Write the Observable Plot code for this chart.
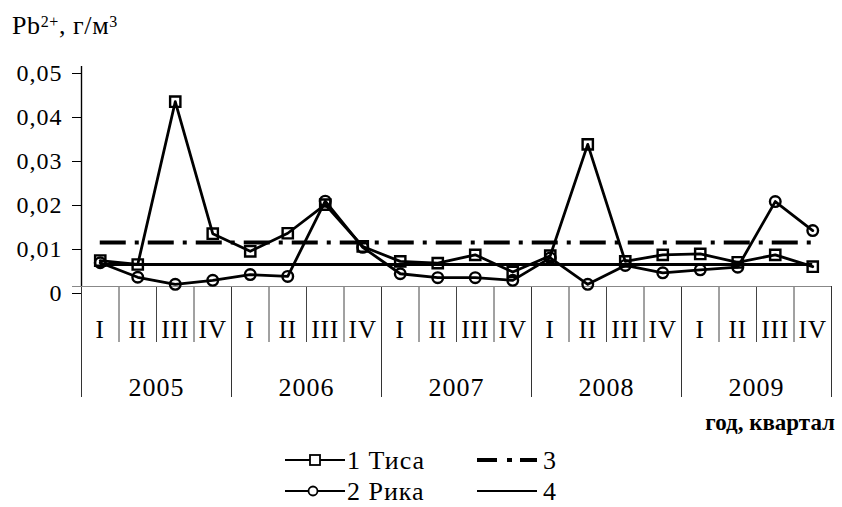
<!DOCTYPE html>
<html>
<head>
<meta charset="utf-8">
<script src="https://cdn.jsdelivr.net/npm/d3@7"></script>
<script src="https://cdn.jsdelivr.net/npm/@observablehq/plot@0.6"></script>
<style>
  html, body { margin: 0; padding: 0; background: white; }
  #wrap { position: relative; width: 842px; height: 507px; font-family: 'Liberation Serif', serif; }
  #wrap > svg { position: absolute; left: 0; top: 0; }
  #wrap svg text { font-family: 'Liberation Serif', serif; }
</style>
</head>
<body>
<div id="wrap"></div>
<script>
// ---- data ----
const years = ["2005", "2006", "2007", "2008", "2009"];
const quarters = ["I", "II", "III", "IV"];
const tisa = [0.0059, 0.0050, 0.0420, 0.0120,
              0.0080, 0.0121, 0.0186, 0.0091,
              0.0057, 0.0053, 0.0072, 0.0033,
              0.0070, 0.0323, 0.0057, 0.0072,
              0.0074, 0.0055, 0.0072, 0.0045];
const rika = [0.0054, 0.0021, 0.0005, 0.0014,
              0.0027, 0.0023, 0.0194, 0.0089,
              0.0029, 0.0020, 0.0020, 0.0014,
              0.0065, 0.0005, 0.0048, 0.0031,
              0.0038, 0.0044, 0.0193, 0.0127];
const level3 = 0.01;   // series 3
const level4 = 0.005;  // series 4
const yTicks = [0, 0.01, 0.02, 0.03, 0.04, 0.05];
const yTickLabels = ["0", "0,01", "0,02", "0,03", "0,04", "0,05"];
const legendLabels = ["1 Тиса", "2 Рика", "3", "4"];
const yTitle = ["Pb", "2+", ", г/м", "3"];
const xTitle = "год, квартал";

// ---- build ----
const FONT = "Liberation Serif";
const rows = tisa.map((v, i) => ({pos: i + 0.5, tisa: v, rika: rika[i]}));
const first = rows[0].pos, last = rows[rows.length - 1].pos;
const n = tisa.length;

const chart = Plot.plot({
  width: 842,
  height: 507,
  marginTop: 66,
  marginBottom: 221,
  marginLeft: 81,
  marginRight: 11,
  x: {domain: [0, n], axis: null},
  y: {domain: [0, 0.05], axis: null},
  style: {fontFamily: FONT, color: "black", background: "white", overflow: "visible"},
  marks: [
    Plot.axisX({ticks: d3.range(0, n + 1), tickSize: 56, tickFormat: () => "", stroke: "#444", label: null}),
    Plot.axisX({ticks: d3.range(0, n + 1, 4), tickSize: 111, tickFormat: () => "", stroke: "#333", label: null}),
    Plot.axisX({ticks: rows.map(d => d.pos), tickSize: 0, tickPadding: 34, fontSize: 25, fontFamily: FONT,
      tickFormat: v => quarters[Math.floor(v) % 4], label: null}),
    Plot.axisX({ticks: years.map((_, k) => k * 4 + 2), tickSize: 0, tickPadding: 91, fontSize: 26, fontFamily: FONT,
      tickFormat: v => years[(v - 2) / 4], label: null}),
    Plot.axisY({ticks: yTicks, tickSize: 9, tickPadding: 10, fontSize: 24, fontFamily: FONT, dy: 7,
      tickFormat: v => yTickLabels[yTicks.indexOf(v)], label: null}),
    Plot.ruleX([0], {y1: 0, y2: 0.05, strokeWidth: 1.4}),
    Plot.ruleY([0], {stroke: "#888", insetLeft: -9}),
    Plot.ruleY([{y: level4, x1: first, x2: last}], {y: "y", x1: "x1", x2: "x2", strokeWidth: 2.8}),
    Plot.ruleY([{y: level3, x1: first, x2: last}], {y: "y", x1: "x1", x2: "x2", strokeWidth: 4, strokeDasharray: "26,9,4,9"}),
    Plot.line(rows, {x: "pos", y: "tisa", strokeWidth: 2.8}),
    Plot.dot(rows, {x: "pos", y: "tisa", symbol: "square", r: 5.8, stroke: "black", fill: "none", strokeWidth: 2.4}),
    Plot.line(rows, {x: "pos", y: "rika", strokeWidth: 2.8}),
    Plot.dot(rows, {x: "pos", y: "rika", symbol: "circle", r: 5.3, stroke: "black", fill: "none", strokeWidth: 2.4})
  ]
});
document.getElementById("wrap").appendChild(chart);
d3.select(chart).selectAll("text").attr("font-family", FONT).style("font-family", FONT).style("letter-spacing", "1px");

// ---- overlay: titles and legend ----
const ov = d3.select("#wrap").append("svg").attr("width", 842).attr("height", 507)
  .attr("font-family", FONT).style("pointer-events", "none").style("overflow", "visible");

const t = ov.append("text").attr("x", 12).attr("y", 34).attr("font-size", 26).attr("font-family", FONT)
  .style("letter-spacing", "0.6px");
t.append("tspan").text(yTitle[0]);
t.append("tspan").attr("font-size", 16).attr("dy", -7).text(yTitle[1]);
t.append("tspan").attr("dy", 7).text(yTitle[2]);
t.append("tspan").attr("font-size", 16).attr("dy", -7).text(yTitle[3]);

ov.append("text").attr("x", 835).attr("y", 430).attr("text-anchor", "end").attr("font-family", FONT)
  .attr("font-size", 23).attr("font-weight", "bold").text(xTitle);

const items = [
  {x: 285, y: 460, label: legendLabels[0], kind: "square"},
  {x: 285, y: 491, label: legendLabels[1], kind: "circle"},
  {x: 477, y: 460, label: legendLabels[2], kind: "dash"},
  {x: 477, y: 491, label: legendLabels[3], kind: "solid"}
];
for (const it of items) {
  const g = ov.append("g");
  const ln = g.append("line").attr("x1", it.x).attr("x2", it.x + 60).attr("y1", it.y).attr("y2", it.y)
    .attr("stroke", "black").attr("stroke-width", it.kind === "dash" ? 4 : 2.2);
  if (it.kind === "dash") ln.attr("stroke-dasharray", "20 10 5 8 20");
  if (it.kind === "square") g.append("rect").attr("x", it.x + 25).attr("y", it.y - 5).attr("width", 10).attr("height", 10)
    .attr("fill", "white").attr("stroke", "black").attr("stroke-width", 1.8);
  if (it.kind === "circle") g.append("circle").attr("cx", it.x + 28).attr("cy", it.y).attr("r", 4.5)
    .attr("fill", "white").attr("stroke", "black").attr("stroke-width", 1.8);
  g.append("text").attr("x", it.x + (it.kind === "square" || it.kind === "circle" ? 62 : 66)).attr("y", it.y + 9)
    .attr("font-family", FONT).attr("font-size", 26).style("letter-spacing", "1px").text(it.label);
}
</script>
</body>
</html>
